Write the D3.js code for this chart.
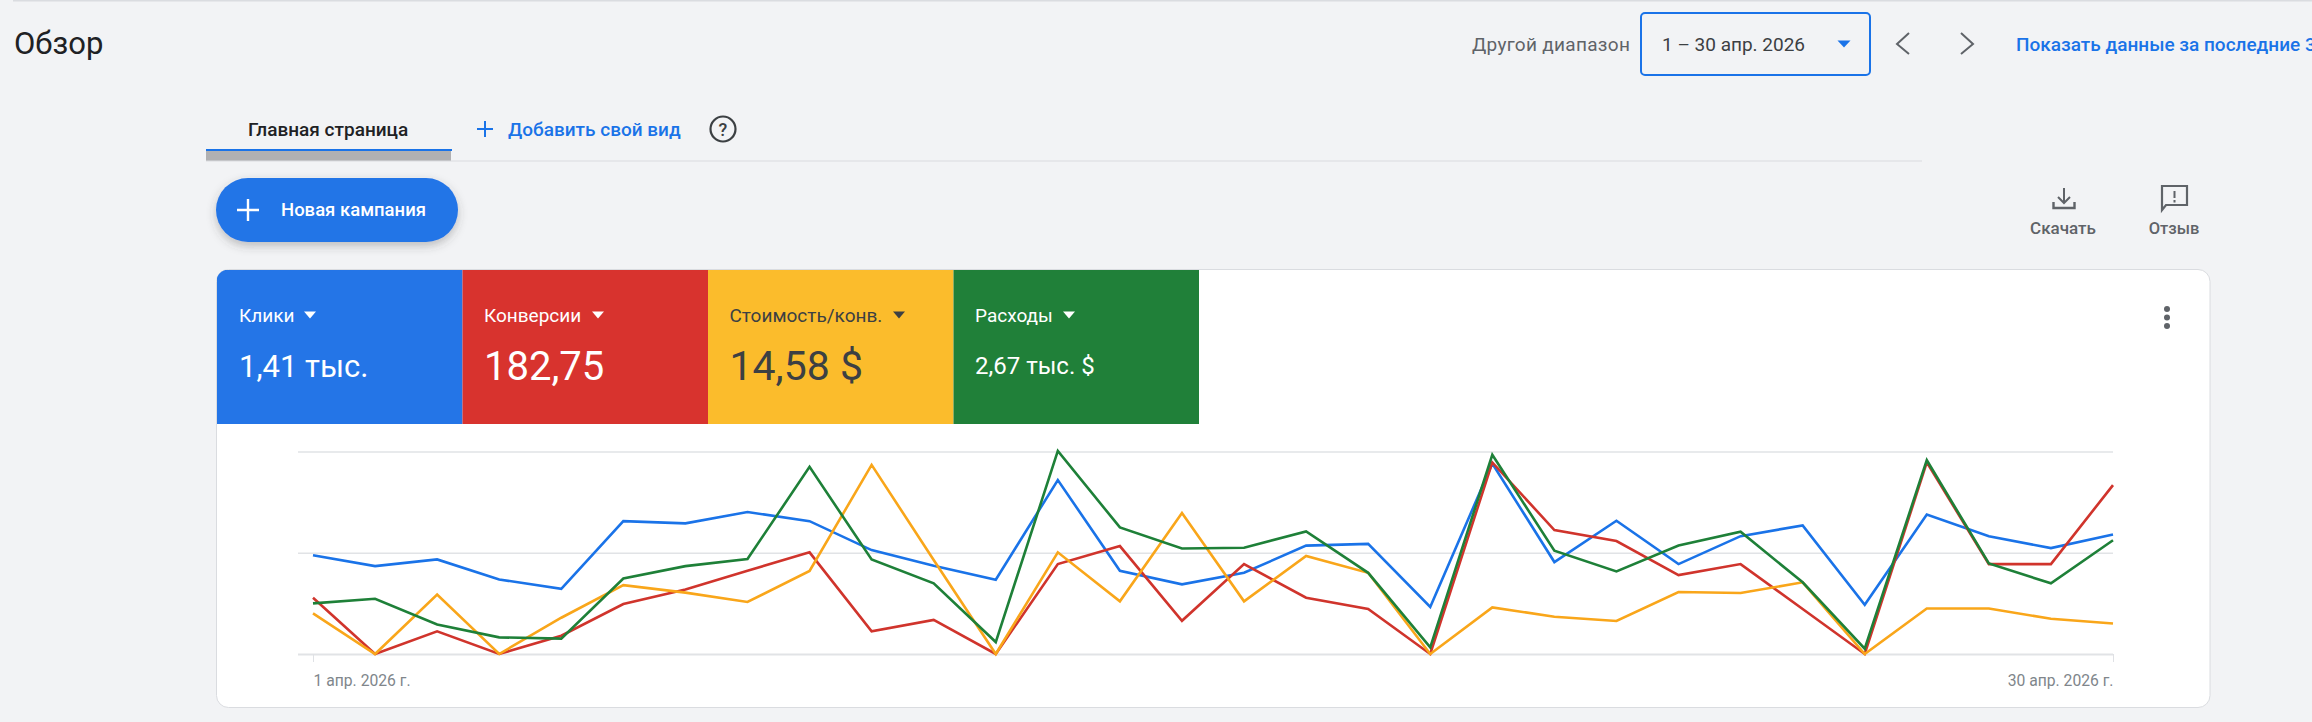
<!DOCTYPE html>
<html lang="ru">
<head>
<meta charset="utf-8">
<title>Обзор</title>
<script src="https://cdn.jsdelivr.net/npm/d3@7/dist/d3.min.js"></script>
<style>
  html, body { margin: 0; padding: 0; background: #f2f3f5; overflow: hidden; }
  svg { display: block; }
  text { font-family: Roboto, sans-serif; }
</style>
</head>
<body>
<script>
const days = [1, 2, 3, 4, 5, 6, 7, 8, 9, 10, 11, 12, 13, 14, 15, 16, 17, 18, 19, 20, 21, 22, 23, 24, 25, 26, 27, 28, 29, 30];
const clicks = [48.8, 43.4, 46.7, 36.8, 32.2, 65.6, 64.5, 70.1, 65.6, 51.3, 43.6, 36.7, 85.9, 41.1, 34.4, 40.1, 53.5, 54.4, 23.2, 94.1, 45.4, 65.8, 44.4, 58.2, 63.5, 24.3, 68.9, 58.1, 52.3, 59.0];
const conversions = [27.8, 0, 11.2, 0, 9.0, 24.7, 31.9, 41.1, 50.2, 11.2, 16.8, 0, 44.4, 53.3, 16.4, 44.4, 27.8, 22.2, 0, 94.6, 61.2, 55.8, 39.0, 44.4, 22.2, 0, 94.6, 44.4, 44.4, 83.4];
const costPerConv = [20.1, 0, 29.4, 0, 17.9, 34.0, 30.3, 25.7, 41.0, 93.4, 46.4, 0, 50.2, 26.0, 69.6, 26.0, 48.4, 40.1, 0, 23.0, 18.4, 16.3, 30.6, 30.1, 35.4, 0, 22.5, 22.5, 17.4, 15.1];
const spend = [25.0, 27.3, 14.6, 8.2, 7.6, 37.3, 43.4, 46.9, 92.4, 46.7, 34.9, 5.9, 100.3, 62.5, 52.1, 52.5, 60.5, 40.1, 3.3, 98.4, 51.0, 40.8, 53.6, 60.4, 35.4, 2.6, 95.7, 44.7, 34.9, 56.2];

const seriesValues = [clicks, conversions, costPerConv, spend];
const seriesColors = ['#1a73e8', '#d0342c', '#f9a61a', '#1e8038'];

const metricNames = ['Клики', 'Конверсии', 'Стоимость/конв.', 'Расходы'];
const metricTotals = ['1,41 тыс.', '182,75', '14,58 $', '2,67 тыс. $'];
const metricSizes = [31, 40, 41, 24];
const tileColors = ['#2475e7', '#d8332e', '#fbbc2c', '#208039'];
const tileText = ['#fff', '#fff', '#3c4043', '#fff'];

const xTickLabels = ['1 апр. 2026 г.', '30 апр. 2026 г.'];
const yTicks = [0, 50, 100];

const width = 2312;
const height = 722;

const blue = '#1a73e8';
const gray = '#5f6368';
const rule = '#dfe1e5';

let svg = d3.select('body')
  .append('svg')
  .attr('width', width)
  .attr('height', height);

function label(str, x, y, size, color, weight, anchor) {
  return svg.append('text')
    .attr('x', x)
    .attr('y', y)
    .attr('dominant-baseline', 'central')
    .attr('text-anchor', anchor || 'start')
    .style('font-size', size + 'px')
    .style('font-weight', weight || 400)
    .style('fill', color)
    .text(str);
}

function stroke(d, color, w) {
  return svg.append('path')
    .attr('d', d)
    .attr('fill', 'none')
    .attr('stroke', color)
    .attr('stroke-width', w);
}

function triangle(cx, cy, w, h, color) {
  svg.append('path')
    .attr('d', `M${cx - w / 2},${cy - h / 2}H${cx + w / 2}L${cx},${cy + h / 2}Z`)
    .attr('fill', color);
}

// page header
svg.append('rect').attr('x', 13).attr('y', 0).attr('width', width).attr('height', 1.5).attr('fill', '#dadce0');
label('Обзор', 14, 43, 31, '#202124');

label('Другой диапазон', 1472, 44, 19, gray).style('letter-spacing', '0.3px');
svg.append('rect')
  .attr('x', 1641).attr('y', 13).attr('width', 229).attr('height', 62).attr('rx', 4)
  .attr('fill', 'none').attr('stroke', blue).attr('stroke-width', 2);
label('1 – 30 апр. 2026', 1662, 44, 19, '#3c4043');
triangle(1844, 44, 13, 7, blue);
stroke('M1909,33L1897,44L1909,54', gray, 2);
stroke('M1961,33L1973,44L1961,54', gray, 2);
label('Показать данные за последние 3', 2016, 44, 19, blue, 500);

// tabs
label('Главная страница', 248, 129, 19, '#202124', 500);
svg.append('rect').attr('x', 206).attr('y', 151).attr('width', 245).attr('height', 10).attr('fill', '#b0b0b2');
svg.append('rect').attr('x', 206).attr('y', 149).attr('width', 246).attr('height', 2).attr('fill', blue);
svg.append('rect').attr('x', 206).attr('y', 160.5).attr('width', 1716).attr('height', 1).attr('fill', '#dadce0');
stroke('M477,129H493M485,121V137', blue, 2);
label('Добавить свой вид', 508, 129, 19, blue, 500);
svg.append('circle').attr('cx', 723).attr('cy', 129).attr('r', 12.5)
  .attr('fill', 'none').attr('stroke', '#3c4043').attr('stroke-width', 2.2);
label('?', 723, 129, 18, '#3c4043', 500, 'middle');

// new campaign button
let shadow = svg.append('defs').append('filter')
  .attr('id', 'shadow')
  .attr('x', '-20%').attr('y', '-30%').attr('width', '140%').attr('height', '180%');
shadow.append('feDropShadow')
  .attr('dx', 0).attr('dy', 4).attr('stdDeviation', 5)
  .attr('flood-color', '#3c4043').attr('flood-opacity', 0.3);
svg.append('rect')
  .attr('x', 216).attr('y', 178).attr('width', 242).attr('height', 64).attr('rx', 32)
  .attr('fill', '#2475e7')
  .attr('filter', 'url(#shadow)');
stroke('M237,210H259M248,199V221', '#fff', 2.4);
label('Новая кампания', 281, 210, 18.5, '#fff', 500);

// download and feedback
stroke('M2064,188V203M2058,197L2064,203L2070,197', gray, 2);
stroke('M2053.5,202V208H2074.5V202', gray, 2.4);
stroke('M2162,186H2187V205H2166L2162,210Z', gray, 2.2);
stroke('M2174.5,191V198M2174.5,200V202.5', gray, 2);
label('Скачать', 2063, 228, 17, gray, 500, 'middle');
label('Отзыв', 2174, 228, 16.5, gray, 500, 'middle');

// card and metric tiles
svg.append('rect')
  .attr('x', 216.5).attr('y', 269.5).attr('width', 1993.5).attr('height', 438).attr('rx', 12)
  .attr('fill', '#fff').attr('stroke', '#dadce0');
svg.select('defs').append('clipPath').attr('id', 'card')
  .append('rect')
  .attr('x', 216.5).attr('y', 269.5).attr('width', 1993.5).attr('height', 438).attr('rx', 12);

let tileX = d3.scaleLinear().domain([0, 4]).range([217, 1199]);
let tileW = tileX(1) - tileX(0);
let labelX = [239, 484, 729.5, 975];
let arrowX = [310, 598, 899, 1069];

svg.append('g')
  .attr('clip-path', 'url(#card)')
  .selectAll('rect')
  .data(tileColors)
  .join('rect')
  .attr('x', (d, i) => tileX(i))
  .attr('y', 270)
  .attr('width', tileW)
  .attr('height', 154)
  .attr('fill', d => d);

metricNames.forEach((name, i) => {
  label(name, labelX[i], 315, 19, tileText[i]);
  triangle(arrowX[i], 315, 12, 7, tileText[i]);
  label(metricTotals[i], labelX[i], 366, metricSizes[i], tileText[i]);
});

svg.selectAll('.more')
  .data([309, 317.5, 326])
  .join('circle')
  .attr('class', 'more')
  .attr('cx', 2167)
  .attr('cy', d => d)
  .attr('r', 3)
  .attr('fill', gray);

// chart
let x = d3.scalePoint().domain(days).range([313, 2113]);
let y = d3.scaleLinear().domain([0, 100]).range([654, 451.5]);

let yAxis = svg.append('g')
  .attr('transform', 'translate(298,0)')
  .call(d3.axisLeft(y).tickValues(yTicks).tickSize(-1815).tickFormat(''));
yAxis.select('.domain').remove();
yAxis.selectAll('.tick line')
  .attr('stroke', '#e1e3e6')
  .attr('stroke-width', d => d == 0 ? 2 : 1.5);

let xAxis = svg.append('g')
  .attr('transform', 'translate(0,654)')
  .call(d3.axisBottom(x)
    .tickValues([days[0], days[days.length - 1]])
    .tickSize(8)
    .tickPadding(13)
    .tickFormat((d, i) => xTickLabels[i]));
xAxis.select('.domain').remove();
xAxis.selectAll('.tick line').attr('stroke', rule);
xAxis.selectAll('.tick text')
  .attr('text-anchor', (d, i) => i == 0 ? 'start' : 'end')
  .style('font-family', 'Roboto, sans-serif')
  .style('font-size', '15.7px')
  .style('fill', '#80868b');

let line = d3.line()
  .x((d, i) => x(days[i]))
  .y(d => y(d));

svg.append('g')
  .selectAll('path')
  .data(seriesValues)
  .join('path')
  .attr('d', line)
  .attr('fill', 'none')
  .attr('stroke', (d, i) => seriesColors[i])
  .attr('stroke-width', 2.6)
  .attr('stroke-linejoin', 'miter');
</script>
</body>
</html>
